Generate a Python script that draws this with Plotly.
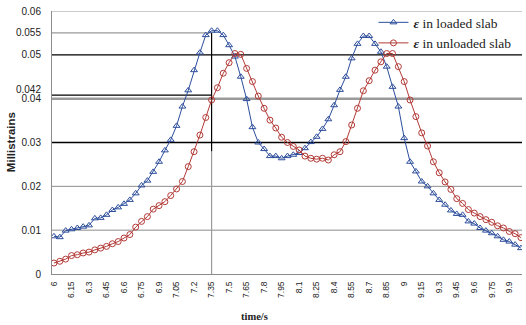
import plotly.graph_objects as go

# categories: time in seconds, every 0.05 s from 6.00 to 10.00
time_s = [round(6 + 0.05 * k, 2) for k in range(81)]

loaded = [0.0086, 0.0084, 0.0099, 0.0102, 0.0105, 0.0108, 0.0111, 0.0127, 0.0128, 0.0135,
          0.0146, 0.0152, 0.0160, 0.0169, 0.0184, 0.0202, 0.0213, 0.0233, 0.0256, 0.0282,
          0.0306, 0.0338, 0.0382, 0.0419, 0.0465, 0.0505, 0.0545, 0.0555, 0.0555, 0.0545,
          0.0522, 0.0496, 0.0450, 0.0399, 0.0335, 0.0300, 0.0285, 0.0269, 0.0269, 0.0264,
          0.0269, 0.0272, 0.0276, 0.0287, 0.0301, 0.0313, 0.0331, 0.0353, 0.0385, 0.0420,
          0.0450, 0.0492, 0.0525, 0.0543, 0.0543, 0.0525, 0.0507, 0.0473, 0.0427, 0.0382,
          0.0310, 0.0256, 0.0234, 0.0211, 0.0200, 0.0184, 0.0169, 0.0158, 0.0145, 0.0137,
          0.0135, 0.0120, 0.0115, 0.0105, 0.0099, 0.0093, 0.0086, 0.0078, 0.0074, 0.0067,
          0.0059]

unloaded = [0.0025, 0.0029, 0.0034, 0.0042, 0.0044, 0.0048, 0.0050, 0.0055, 0.0059, 0.0063,
            0.0069, 0.0074, 0.0082, 0.0090, 0.0107, 0.0120, 0.0131, 0.0148, 0.0156, 0.0165,
            0.0179, 0.0194, 0.0211, 0.0245, 0.0279, 0.0317, 0.0357, 0.0397, 0.0425, 0.0458,
            0.0482, 0.0503, 0.0501, 0.0469, 0.0439, 0.0406, 0.0378, 0.0351, 0.0333, 0.0312,
            0.0300, 0.0291, 0.0283, 0.0269, 0.0264, 0.0262, 0.0264, 0.0260, 0.0272, 0.0279,
            0.0302, 0.0340, 0.0378, 0.0418, 0.0441, 0.0465, 0.0484, 0.0503, 0.0503, 0.0473,
            0.0439, 0.0397, 0.0359, 0.0322, 0.0292, 0.0256, 0.0231, 0.0210, 0.0193, 0.0172,
            0.0161, 0.0147, 0.0139, 0.0131, 0.0124, 0.0118, 0.0110, 0.0105, 0.0097, 0.0092,
            0.0083]

x_tick_vals = [6.0, 6.15, 6.3, 6.45, 6.6, 6.75, 6.9, 7.05, 7.2, 7.35, 7.5, 7.65, 7.8, 7.95,
               8.1, 8.25, 8.4, 8.55, 8.7, 8.85, 9.0, 9.15, 9.3, 9.45, 9.6, 9.75, 9.9]
x_tick_text = ["6", "6.15", "6.3", "6.45", "6.6", "6.75", "6.9", "7.05", "7.2", "7.35", "7.5",
               "7.65", "7.8", "7.95", "8.1", "8.25", "8.4", "8.55", "8.7", "8.85", "9", "9.15",
               "9.3", "9.45", "9.6", "9.75", "9.9"]
y_tick_vals = [0, 0.01, 0.02, 0.03, 0.04, 0.042, 0.05, 0.055, 0.06]
y_tick_text = ["0", "0.01", "0.02", "0.03", "0.04", "0.042", "0.05", "0.055", "0.06"]

# reference lines
full_lines = [0.01, 0.02, 0.03, 0.04, 0.05, 0.06]
peak_time = 7.35
peak_lines = [0.0408, 0.055]   # drawn from the y axis to the peak time
vline_top = 0.055
vline_split = 0.028

X_RANGE = [5.983, 10.009]
BLUE = "#2D4E9C"
RED = "#B23A36"

fig = go.Figure()
fig.add_trace(go.Scatter(
    x=time_s, y=loaded, mode="lines+markers",
    name="<b><i>ε</i></b> in loaded slab",
    line=dict(color=BLUE, width=1),
    marker=dict(symbol="triangle-up-open", size=6, color=BLUE, line=dict(width=1))))
fig.add_trace(go.Scatter(
    x=time_s, y=unloaded, mode="lines+markers",
    name="<b><i>ε</i></b> in unloaded slab",
    line=dict(color=RED, width=1),
    marker=dict(symbol="circle-open", size=6, color=RED, line=dict(width=1))))

line_style = {0.01: ("#8c8c8c", 1), 0.02: ("#8c8c8c", 1), 0.03: ("#000000", 1.3),
              0.04: ("#9a9a9a", 2.5), 0.05: ("#000000", 1.3), 0.06: ("#9a9a9a", 1)}
shapes = []
for v in full_lines:
    c, w = line_style[v]
    shapes.append(dict(type="line", xref="x", yref="y", x0=X_RANGE[0], x1=X_RANGE[1],
                       y0=v, y1=v, line=dict(color=c, width=w), layer="below"))
for v, c in zip(peak_lines, ["#000000", "#9a9a9a"]):
    shapes.append(dict(type="line", xref="x", yref="y", x0=X_RANGE[0], x1=peak_time,
                       y0=v, y1=v, line=dict(color=c, width=1.3), layer="below"))
shapes.append(dict(type="line", xref="x", yref="y", x0=peak_time, x1=peak_time,
                   y0=0, y1=vline_split, line=dict(color="#9a9a9a", width=1.2), layer="below"))
shapes.append(dict(type="line", xref="x", yref="y", x0=peak_time, x1=peak_time,
                   y0=vline_split, y1=vline_top, line=dict(color="#000000", width=1.2), layer="below"))

fig.update_layout(
    width=526, height=325,
    margin=dict(l=52, r=4, t=11, b=51, autoexpand=False),
    paper_bgcolor="white", plot_bgcolor="white",
    showlegend=True,
    legend=dict(x=0.684, y=1.015, xanchor="left", yanchor="top",
                bgcolor="rgba(0,0,0,0)", borderwidth=0, tracegroupgap=0,
                font=dict(family="Liberation Serif", size=13.5, color="#222")),
    shapes=shapes,
    xaxis=dict(range=X_RANGE, tickmode="array", tickvals=x_tick_vals, ticktext=x_tick_text,
               tickangle=-90, showgrid=False, zeroline=False, showline=True, automargin=False,
               linecolor="#8c8c8c", linewidth=1, ticks="", ticklabelstandoff=3,
               tickfont=dict(family="Liberation Sans", size=8.5, color="#222")),
    yaxis=dict(range=[0, 0.06], tickmode="array", tickvals=y_tick_vals, ticktext=y_tick_text,
               showgrid=False, zeroline=False, showline=True, linecolor="#8c8c8c",
               linewidth=1, ticks="", ticklabelstandoff=8, automargin=False,
               tickfont=dict(family="Liberation Sans", size=10, color="#222")),
    annotations=[
        dict(text="<b>Millistrains</b>", xref="paper", yref="paper", x=-0.088, y=0.5,
             xanchor="center", yanchor="middle", textangle=-90, showarrow=False,
             font=dict(family="Liberation Sans", size=11.5, color="#222")),
        dict(text="<b>time/s</b>", xref="paper", yref="paper", x=0.43, y=-0.162,
             xanchor="center", yanchor="middle", showarrow=False,
             font=dict(family="Liberation Serif", size=10.5, color="#222")),
    ],
)

fig.write_html("out.html", config={"displayModeBar": False},
               post_script="document.body.style.margin='0';document.body.style.overflow='hidden';")
